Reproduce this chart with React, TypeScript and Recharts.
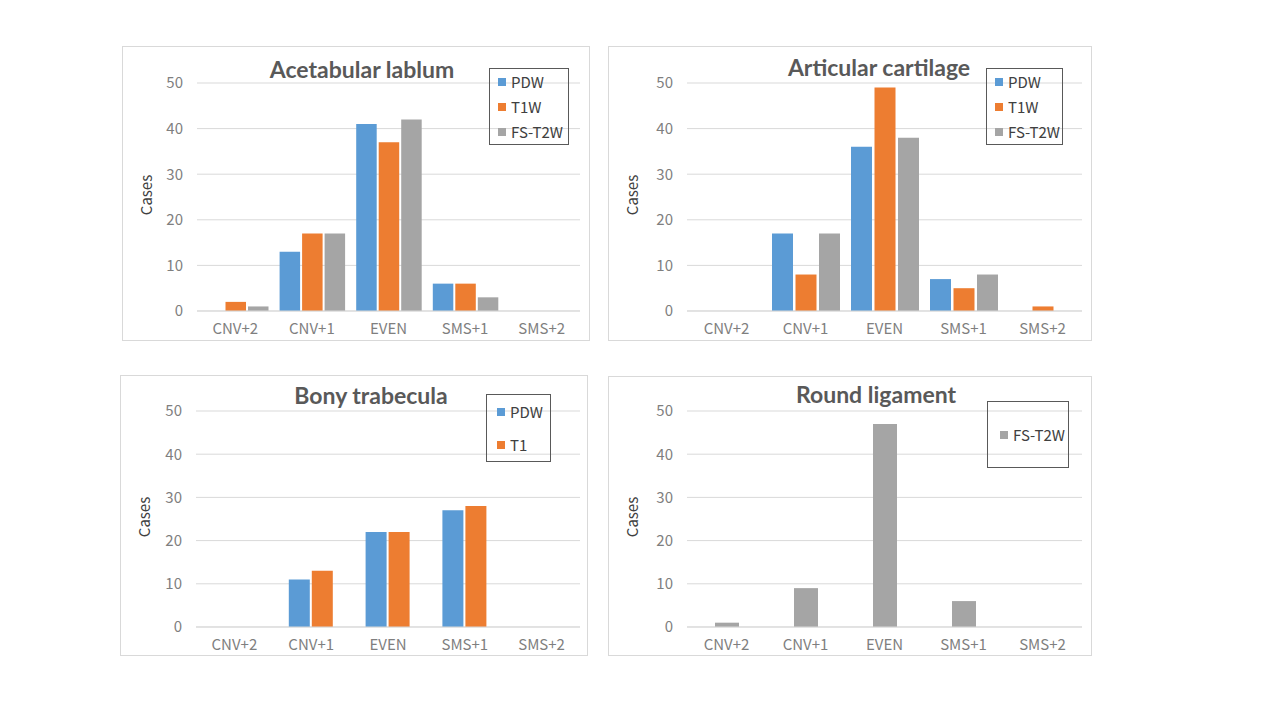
import React from 'react';
import { BarChart, Bar, XAxis, YAxis, CartesianGrid, Legend } from 'recharts';

// ---- data ----
const categories = ['CNV+2', 'CNV+1', 'EVEN', 'SMS+1', 'SMS+2'];
const yTicks = [0, 10, 20, 30, 40, 50];

const labrumPDW = [0, 13, 41, 6, 0];
const labrumT1W = [2, 17, 37, 6, 0];
const labrumT2W = [1, 17, 42, 3, 0];

const cartilagePDW = [0, 17, 36, 7, 0];
const cartilageT1W = [0, 8, 49, 5, 1];
const cartilageT2W = [0, 17, 38, 8, 0];

const trabeculaPDW = [0, 11, 22, 27, 0];
const trabeculaT1 = [0, 13, 22, 28, 0];

const ligamentT2W = [1, 9, 47, 6, 0];

const BLUE = '#5b9bd5';
const ORANGE = '#ed7d31';
const GRAY = '#a5a5a5';

const TICK_FONT = '"Noto Sans CJK JP", "Noto Sans", sans-serif';
const TITLE_FONT = 'Lato, "Open Sans", sans-serif';

type Series = { name: string; values: number[]; color: string };

interface PanelProps {
  title: string;
  series: Series[];
  box: { left: number; top: number; width: number; height: number };
  plot: { left: number; top: number; right: number; bottom: number };
  titlePos: [number, number];
  casesPos: [number, number];
  legendBox: { left: number; top: number; width: number; height: number; pad: number };
  barSize: number;
  barGap: number;
}

const X_AXIS_H = 25;
const Y_AXIS_W = 40;

function Panel({ title, series, box, plot, titlePos, casesPos, legendBox, barSize, barGap }: PanelProps) {
  const rows = categories.map((cat, i) => {
    const row: Record<string, string | number> = { cat };
    series.forEach((s) => {
      row[s.name] = s.values[i];
    });
    return row;
  });

  const order = series.map((s) => s.name);

  const renderLegend = (props: any) => {
    const payload = [...(props.payload || [])].sort(
      (a: any, b: any) => order.indexOf(a.value) - order.indexOf(b.value)
    );
    return (
      <div
        style={{
          boxSizing: 'border-box',
          width: '100%',
          height: '100%',
          border: '1px solid #595959',
          display: 'flex',
          flexDirection: 'column',
          justifyContent: 'space-around',
          paddingLeft: legendBox.pad,
        }}
      >
        {payload.map((p: any) => (
          <div
            key={p.value}
            style={{
              display: 'flex',
              alignItems: 'center',
              height: 16,
              fontSize: 15,
              color: '#404040',
              fontFamily: TICK_FONT,
              whiteSpace: 'nowrap',
            }}
          >
            <span style={{ width: 8, height: 8, background: p.color, marginRight: 5, flex: 'none' }} />
            {p.value}
          </div>
        ))}
      </div>
    );
  };

  return (
    <div style={{ position: 'absolute', left: box.left, top: box.top, width: box.width, height: box.height }}>
      <div
        style={{
          position: 'absolute',
          inset: 0,
          boxSizing: 'border-box',
          border: '1px solid #d9d9d9',
        }}
      />
      <div style={{ position: 'absolute', left: 0, top: 0 }}>
        <BarChart
          width={box.width}
          height={box.height}
          data={rows}
          barSize={barSize}
          barGap={barGap}
          margin={{
            top: plot.top,
            right: box.width - plot.right,
            bottom: box.height - plot.bottom - X_AXIS_H,
            left: plot.left - Y_AXIS_W,
          }}
        >
          <CartesianGrid vertical={false} stroke="#d9d9d9" />
          <XAxis
            dataKey="cat"
            height={X_AXIS_H}
            interval={0}
            tickLine={false}
            tickSize={0}
            tickMargin={12}
            axisLine={{ stroke: '#d9d9d9' }}
            tick={{ fill: '#7f7f7f', fontSize: 15, fontFamily: TICK_FONT }}
          />
          <YAxis
            width={Y_AXIS_W}
            domain={[0, 50]}
            ticks={yTicks}
            axisLine={false}
            tickLine={false}
            tickSize={0}
            tickMargin={14}
            tick={{ fill: '#7f7f7f', fontSize: 15, fontFamily: TICK_FONT }}
          />
          <Legend
            layout="vertical"
            align="center"
            verticalAlign="middle"
            content={renderLegend}
            wrapperStyle={{
              left: legendBox.left,
              top: legendBox.top,
              width: legendBox.width,
              height: legendBox.height,
            }}
          />
          {series.map((s) => (
            <Bar key={s.name} dataKey={s.name} name={s.name} fill={s.color} isAnimationActive={false} />
          ))}
        </BarChart>
      </div>
      <div
        style={{
          position: 'absolute',
          left: titlePos[0],
          top: titlePos[1],
          transform: 'translate(-50%, -50%)',
          whiteSpace: 'nowrap',
          fontFamily: TITLE_FONT,
          fontWeight: 700,
          fontSize: 23,
          lineHeight: 1,
          color: '#595959',
        }}
      >
        {title}
      </div>
      <div
        style={{
          position: 'absolute',
          left: casesPos[0],
          top: casesPos[1],
          transform: 'translate(-50%, -50%) rotate(-90deg)',
          whiteSpace: 'nowrap',
          fontFamily: TICK_FONT,
          fontSize: 15,
          lineHeight: 1,
          color: '#404040',
        }}
      >
        Cases
      </div>
    </div>
  );
}

export default function App() {
  return (
    <div
      style={{
        position: 'absolute',
        left: 0,
        top: 0,
        width: 1280,
        height: 720,
        background: '#fff',
        overflow: 'hidden',
      }}
    >
      <Panel
        title="Acetabular lablum"
        series={[
          { name: 'PDW', values: labrumPDW, color: BLUE },
          { name: 'T1W', values: labrumT1W, color: ORANGE },
          { name: 'FS-T2W', values: labrumT2W, color: GRAY },
        ]}
        box={{ left: 122, top: 46, width: 468, height: 295 }}
        plot={{ left: 75, top: 37, right: 458, bottom: 265 }}
        titlePos={[240, 23]}
        casesPos={[23, 149]}
        legendBox={{ left: 367, top: 22, width: 80, height: 77, pad: 8 }}
        barSize={20.5}
        barGap={2}
      />
      <Panel
        title="Articular cartilage"
        series={[
          { name: 'PDW', values: cartilagePDW, color: BLUE },
          { name: 'T1W', values: cartilageT1W, color: ORANGE },
          { name: 'FS-T2W', values: cartilageT2W, color: GRAY },
        ]}
        box={{ left: 608, top: 46, width: 484, height: 295 }}
        plot={{ left: 79, top: 37, right: 474, bottom: 265 }}
        titlePos={[271, 21]}
        casesPos={[23, 149]}
        legendBox={{ left: 378, top: 22, width: 77, height: 77, pad: 8 }}
        barSize={21}
        barGap={2.5}
      />
      <Panel
        title="Bony trabecula"
        series={[
          { name: 'PDW', values: trabeculaPDW, color: BLUE },
          { name: 'T1', values: trabeculaT1, color: ORANGE },
        ]}
        box={{ left: 120, top: 375, width: 468, height: 281 }}
        plot={{ left: 76, top: 36, right: 460, bottom: 252 }}
        titlePos={[251, 20]}
        casesPos={[23, 142]}
        legendBox={{ left: 366, top: 19, width: 65, height: 68, pad: 10 }}
        barSize={21}
        barGap={2}
      />
      <Panel
        title="Round ligament"
        series={[{ name: 'FS-T2W', values: ligamentT2W, color: GRAY }]}
        box={{ left: 608, top: 376, width: 484, height: 280 }}
        plot={{ left: 79, top: 35, right: 474, bottom: 251 }}
        titlePos={[268, 18]}
        casesPos={[23, 141]}
        legendBox={{ left: 379, top: 25, width: 82, height: 67, pad: 12 }}
        barSize={24}
        barGap={2}
      />
    </div>
  );
}
